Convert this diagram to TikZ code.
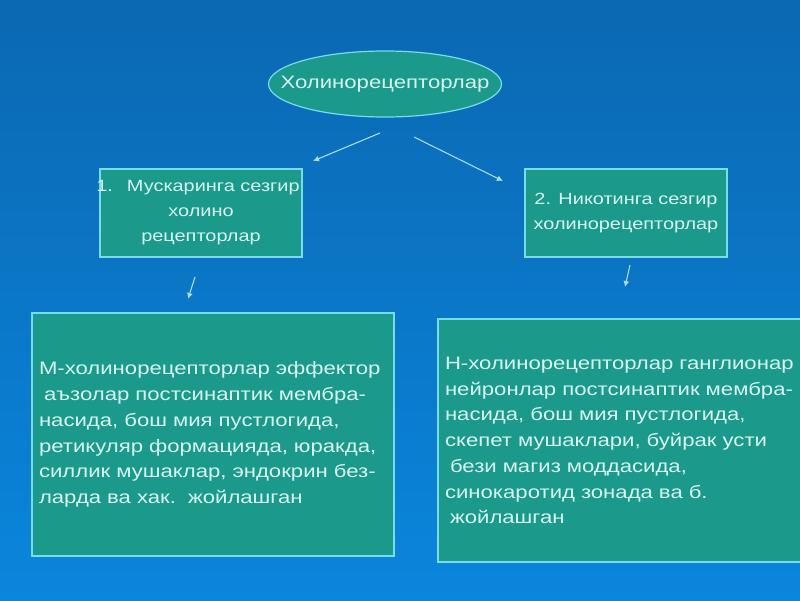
\documentclass[tikz,border=0pt]{standalone}
\usepackage{fontspec}
\setmainfont{Liberation Sans}[FakeStretch=1.23]
\usetikzlibrary{shapes.geometric,arrows.meta}
\definecolor{bgtop}{HTML}{0B68B2}
\definecolor{bgbot}{HTML}{0A86DC}
\definecolor{boxfill}{HTML}{1B9A8C}
\definecolor{boxedge}{HTML}{78DCEA}
\definecolor{txt}{HTML}{D8F6F0}
\definecolor{arrc}{HTML}{A8DCF4}
\tikzset{
  box/.style={draw=boxedge, fill=boxfill, line width=1.2pt, text=txt, font=\fontsize{18}{25.7}\selectfont, inner sep=0pt},
  hdr/.style={box, minimum width=202pt, minimum height=88pt, align=center, font=\fontsize{16.2}{25}\selectfont},
  arr/.style={draw=arrc, line width=1.1pt, -{Latex[length=6pt,width=6pt]}}
}
\begin{document}
\begin{tikzpicture}[x=1pt,y=1pt]
\useasboundingbox (0,0) rectangle (800,-600);
\shade[top color=bgtop, bottom color=bgbot] (0,0) rectangle (800,-600);
\node[box, ellipse, minimum width=233pt, minimum height=66pt, font=\fontsize{18}{24}\selectfont] (root) at (385,-84) {\makebox[140pt]{Холинорецепторлар}};
\node[hdr] (m1) at (201,-213) {\hspace*{-6pt}1.\hspace{14pt}Мускаринга сезгир\\холино\\рецепторлар};
\node[hdr] (n1) at (626,-213) {2. Никотинга сезгир\\холинорецепторлар};
\node[box, minimum width=362pt, minimum height=243pt, text width=348pt, align=left] (m2) at (213,-434.5) {М-холинорецепторлар эффектор\\\hspace*{5pt}аъзолар постсинаптик мембра-\\насида, бош мия пустлогида,\\ретикуляр формацияда, юракда,\\силлик мушаклар, эндокрин без-\\ларда ва хак.\ \ жойлашган};
\node[box, minimum width=365pt, minimum height=243pt, text width=351pt, align=left] (n2) at (620.5,-440.5) {Н-холинорецепторлар ганглионар\\нейронлар постсинаптик мембра-\\насида, бош мия пустлогида,\\скепет мушаклари, буйрак усти\\\hspace*{5pt}бези магиз моддасида,\\синокаротид зонада ва б.\\\hspace*{5pt}жойлашган};
\coordinate (a1s) at (380,-133);
\coordinate (a1e) at (313,-161);
\coordinate (a2s) at (414,-137);
\coordinate (a2e) at (503,-181);
\coordinate (a3s) at (195,-277);
\coordinate (a3e) at (188,-299);
\coordinate (a4s) at (630,-265);
\coordinate (a4e) at (625,-287);
\draw[arr] (a1s) -- (a1e);
\draw[arr] (a2s) -- (a2e);
\draw[arr] (a3s) -- (a3e);
\draw[arr] (a4s) -- (a4e);
\end{tikzpicture}
\end{document}
